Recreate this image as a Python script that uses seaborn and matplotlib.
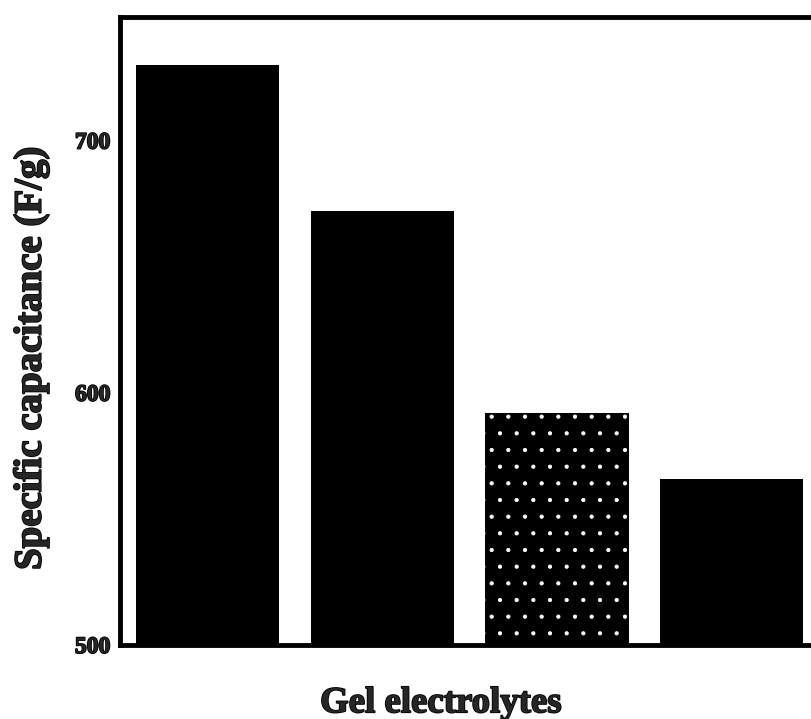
import matplotlib
matplotlib.use("Agg")
import matplotlib.pyplot as plt
import matplotlib.patheffects as pe
import seaborn as sns
import pandas as pd

# Specific capacitance for each gel electrolyte
electrolytes = ["Gel A", "Gel B", "Gel C", "Gel D"]
capacitance = [730, 672, 592, 566]
bar_colors = ["#000000", "#000000", "#000000", "#000000"]
y_ticks = [500, 600, 700]

sns.set_theme(style="white")
plt.rcParams["font.family"] = ["Liberation Serif", "DejaVu Serif"]
plt.rcParams["hatch.linewidth"] = 0.6

df = pd.DataFrame({"electrolyte": electrolytes, "capacitance": capacitance})

fig = plt.figure(figsize=(8.11, 7.19), dpi=100)
ax = fig.add_axes([0.148, 0.1029, 0.862, 0.8734])

sns.barplot(data=df, x="electrolyte", y="capacitance", hue="electrolyte",
            palette=bar_colors, width=0.82, legend=False, ax=ax, linewidth=0)

# speckled fill for the third electrolyte (white dots on black)
speckled = ax.patches[2]
speckled.set_edgecolor("white")
speckled.set_linewidth(0)
speckled.set_hatch(".")

ax.set_xlim(-0.5, 3.5)
ax.set_ylim(500, 749)
ax.set_yticks(y_ticks)
ax.set_xticks([])

heavy = [pe.withStroke(linewidth=1.2, foreground="black")]
ax.set_yticklabels([str(t) for t in y_ticks], fontsize=17, fontweight="bold")
for lbl in ax.get_yticklabels():
    lbl.set_path_effects(heavy)

for side in ["left", "right", "top", "bottom"]:
    ax.spines[side].set_visible(True)
    ax.spines[side].set_color("black")
    ax.spines[side].set_linewidth(3.5)

ax.tick_params(axis="y", direction="out", length=4.5, width=1.5, color="black", pad=2.5)

ax.set_ylabel("Specific capacitance (F/g)", fontsize=28, fontweight="bold",
              path_effects=heavy, va="center")
ax.yaxis.set_label_coords(-0.127, 0.457)
ax.set_xlabel("Gel electrolytes", fontsize=26.5, fontweight="bold", path_effects=heavy)
ax.xaxis.set_label_coords(0.459, -0.092)
ax.xaxis.label.set_va("center")

fig.savefig("out.png", dpi=100)
